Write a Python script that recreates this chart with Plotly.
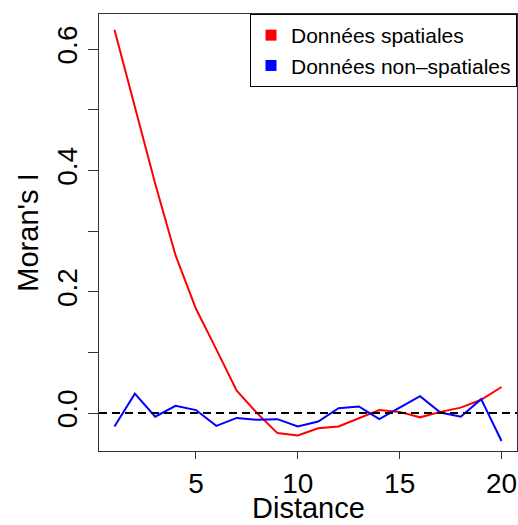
import plotly.graph_objects as go

# Moran's I correlogram values by distance class
distance = list(range(1, 21))
moran_spatial = [0.632, 0.503, 0.378, 0.260, 0.172, 0.105, 0.037, 0.000, -0.033, -0.037,
                 -0.025, -0.022, -0.009, 0.005, 0.002, -0.007, 0.002, 0.009, 0.022, 0.043]
moran_nonspatial = [-0.022, 0.032, -0.006, 0.012, 0.005, -0.021, -0.008, -0.011, -0.010, -0.022,
                    -0.014, 0.008, 0.011, -0.010, 0.009, 0.028, 0.001, -0.006, 0.023, -0.046]

series_names = ["Données spatiales", "Données non–spatiales"]
series_colors = ["#ff0000", "#0000ff"]

x_ticks = [5, 10, 15, 20]
y_ticks = [0.0, 0.1, 0.2, 0.3, 0.4, 0.5, 0.6]
y_tick_text = ["0.0", "", "0.2", "", "0.4", "", "0.6"]
reference_level = 0.0
x_title = "Distance"
y_title = "Moran's I"

FONT = "Liberation Sans, Arial, Helvetica, sans-serif"

fig = go.Figure()

for name, values, color in zip(series_names, [moran_spatial, moran_nonspatial], series_colors):
    fig.add_trace(go.Scatter(
        x=distance, y=values, mode="lines",
        line=dict(color=color, width=2),
        showlegend=False, hoverinfo="x+y", name=name,
    ))
    # square legend key
    fig.add_trace(go.Scatter(
        x=[None], y=[None], mode="markers", name=name,
        marker=dict(symbol="square", size=11, color=color),
        showlegend=True,
    ))

fig.add_shape(type="line", xref="paper", yref="y", x0=0, x1=1,
              y0=reference_level, y1=reference_level,
              line=dict(color="black", width=2, dash="8px,5px"), layer="above")

# x-axis title placed at the bottom edge, below the tick labels
fig.add_annotation(text=x_title, xref="paper", yref="paper", x=0.5, y=0,
                   xanchor="center", yanchor="bottom", yshift=-74, borderpad=0,
                   showarrow=False,
                   font=dict(family=FONT, size=29, color="black"))

axis_common = dict(
    showline=True, linecolor="#333333", linewidth=1, mirror=True,
    ticks="outside", tickwidth=1, tickcolor="#333333",
    showgrid=False, zeroline=False,
    tickfont=dict(family=FONT, size=28, color="black"),
    ticklabeloverflow="allow",
)

fig.update_layout(
    width=518, height=525,
    margin=dict(l=99, r=1, t=14, b=74),
    paper_bgcolor="white", plot_bgcolor="white",
    font=dict(family=FONT, color="black"),
    xaxis=dict(
        range=[0.24, 20.76], tickvals=x_ticks, ticklen=7,
        **axis_common,
    ),
    yaxis=dict(
        range=[-0.0625, 0.658], tickvals=y_ticks, ticktext=y_tick_text,
        tickangle=-90, ticklen=10,
        title=dict(text=y_title, font=dict(family=FONT, size=29), standoff=4),
        **axis_common,
    ),
    legend=dict(
        x=1, y=1, xanchor="right", yanchor="top",
        bordercolor="black", borderwidth=1, bgcolor="white",
        font=dict(family=FONT, size=21, color="black"),
    ),
)

fig.write_html("out.html")
